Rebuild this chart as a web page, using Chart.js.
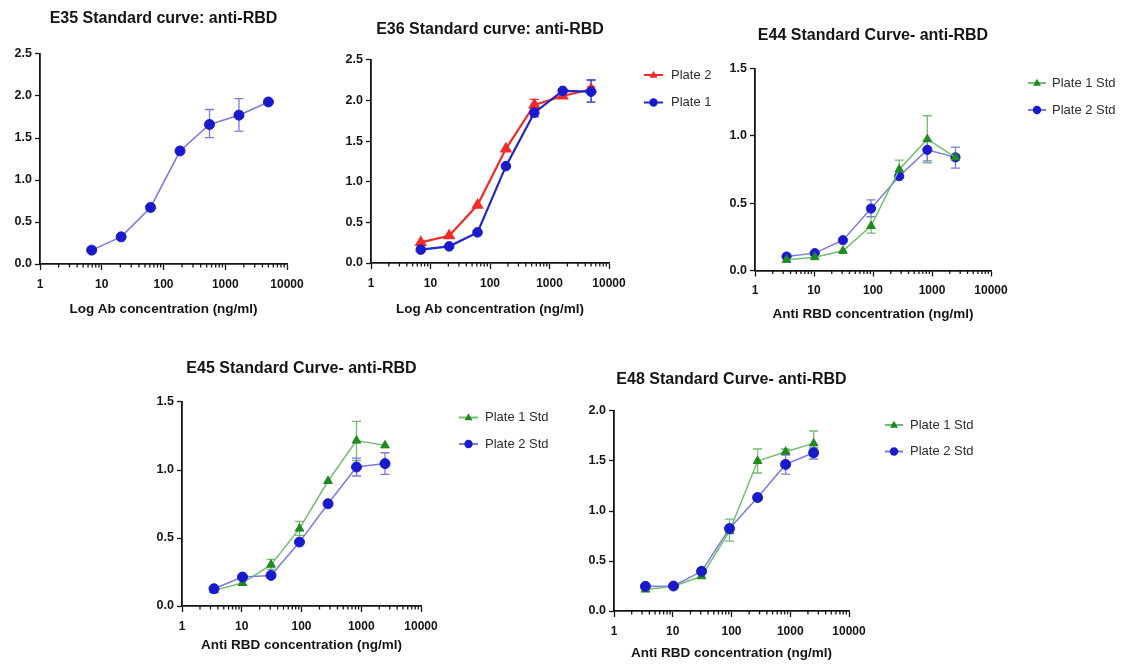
<!DOCTYPE html>
<html>
<head>
<meta charset="utf-8">
<script src="https://cdn.jsdelivr.net/npm/chart.js@4/dist/chart.umd.min.js"></script>
<style>
  html, body { margin: 0; padding: 0; background: #fff; }
  body { width: 1125px; height: 665px; position: relative; overflow: hidden; }
  canvas { position: absolute; }
</style>
</head>
<body>
<script>
// ---------------- DATA ----------------
// E35 (single curve), concentrations in ng/ml
const e35Conc = [6.86, 20.6, 61.7, 185, 556, 1667, 5000];
const e35OD = [0.165, 0.323, 0.673, 1.346, 1.661, 1.772, 1.929];
const e35ErrLow = [null, null, null, null, 1.504, 1.583, null];
const e35ErrHigh = [null, null, null, null, 1.839, 1.969, null];

// E36
const e36Conc = [6.86, 20.6, 61.7, 185, 556, 1667, 5000];
const e36Plate2 = [0.254, 0.336, 0.713, 1.406, 1.947, 2.057, 2.14];
const e36Plate2Low = [null, null, null, null, 1.90, null, 2.11];
const e36Plate2High = [null, null, null, null, 2.016, null, 2.17];
const e36Plate1 = [0.164, 0.205, 0.377, 1.193, 1.852, 2.12, 2.11];
const e36Plate1Low = [null, null, null, null, 1.80, null, 1.98];
const e36Plate1High = [null, null, null, null, 1.90, null, 2.254];

// E44 / E45 / E48 standards
const stdConc = [3.43, 10.3, 30.9, 92.6, 278, 833, 2500];

const e44Plate1 = [0.079, 0.099, 0.146, 0.33, 0.75, 0.975, 0.84];
const e44Plate1Low = [null, null, null, 0.277, 0.70, 0.80, 0.82];
const e44Plate1High = [null, null, null, 0.40, 0.82, 1.149, 0.86];
const e44Plate2 = [0.104, 0.129, 0.225, 0.46, 0.70, 0.896, 0.84];
const e44Plate2Low = [null, null, null, 0.40, null, 0.814, 0.76];
const e44Plate2High = [null, null, null, 0.525, null, 0.96, 0.916];

const e45Plate1 = [0.115, 0.169, 0.304, 0.569, 0.919, 1.216, 1.181];
const e45Plate1Low = [null, null, 0.27, 0.52, null, 1.07, null];
const e45Plate1High = [null, null, 0.343, 0.622, null, 1.358, null];
const e45Plate2 = [0.127, 0.213, 0.225, 0.47, 0.752, 1.022, 1.047];
const e45Plate2Low = [null, null, null, null, null, 0.956, 0.968];
const e45Plate2High = [null, null, null, null, null, 1.088, 1.127];

const e48Plate1 = [0.214, 0.247, 0.347, 0.798, 1.50, 1.593, 1.676];
const e48Plate1Low = [null, null, null, 0.698, 1.38, 1.57, 1.55];
const e48Plate1High = [null, null, null, 0.918, 1.62, 1.62, 1.80];
const e48Plate2 = [0.247, 0.25, 0.397, 0.825, 1.135, 1.466, 1.583];
const e48Plate2Low = [null, null, null, null, null, 1.369, 1.52];
const e48Plate2High = [null, null, null, null, null, 1.56, 1.63];

// Axis ticks
const xMin = 1, xMax = 10000;
const xDecades = [1, 10, 100, 1000];
const xMultipliers = [1, 2, 3, 4, 5, 6, 7, 8, 9];
const yStep = 0.5;

// Text
const titles = {
  e35: 'E35 Standard curve: anti-RBD',
  e36: 'E36 Standard curve: anti-RBD',
  e44: 'E44 Standard Curve- anti-RBD',
  e45: 'E45 Standard Curve- anti-RBD',
  e48: 'E48 Standard Curve- anti-RBD'
};
const xTitleLog = 'Log Ab concentration (ng/ml)';
const xTitleAnti = 'Anti RBD concentration (ng/ml)';

// ---------------- STYLE ----------------
const FONT = "'Liberation Sans', Arial, Helvetica, sans-serif";
const INK = '#141414';
const BLUE_MK = '#1a1acd';
const BLUE_LINE_SOFT = '#7b7bdc';
const BLUE_LINE_SOLID = '#2424cf';
const RED = '#f32a2a';
const GREEN_MK = '#1f8a1f';
const GREEN_LINE = '#72bd72';

const xTickValues = [];
xDecades.forEach(d => xMultipliers.forEach(m => xTickValues.push(d * m)));
xTickValues.push(xMax);
const isPow10 = v => Math.abs(Math.log10(v) - Math.round(Math.log10(v))) < 1e-9;

const pts = (xs, ys) => xs.map((x, i) => ({ x: x, y: ys[i] }));

// ---------------- PLUGINS ----------------
const errorBars = {
  id: 'errorBars',
  beforeDatasetsDraw(chart) {
    const { ctx } = chart;
    const xs = chart.scales.x, ys = chart.scales.y;
    chart.data.datasets.forEach(ds => {
      if (!ds.errLow) return;
      ctx.save();
      ctx.strokeStyle = ds.errColor || ds.borderColor;
      ctx.lineWidth = 1.3;
      ds.data.forEach((p, i) => {
        const lo = ds.errLow[i], hi = ds.errHigh[i];
        if (lo == null || hi == null) return;
        const px = xs.getPixelForValue(p.x);
        const pl = ys.getPixelForValue(lo), ph = ys.getPixelForValue(hi);
        ctx.beginPath();
        ctx.moveTo(px, pl); ctx.lineTo(px, ph);
        ctx.moveTo(px - 4.5, pl); ctx.lineTo(px + 4.5, pl);
        ctx.moveTo(px - 4.5, ph); ctx.lineTo(px + 4.5, ph);
        ctx.stroke();
      });
      ctx.restore();
    });
  }
};

const minorTicks = {
  id: 'minorTicks',
  afterDraw(chart) {
    const s = chart.scales.x, ctx = chart.ctx;
    ctx.save();
    ctx.strokeStyle = INK;
    ctx.lineWidth = 1.3;
    s.ticks.forEach(t => {
      if (isPow10(t.value)) return;
      const px = s.getPixelForValue(t.value);
      ctx.beginPath();
      ctx.moveTo(px, s.top);
      ctx.lineTo(px, s.top + 3.5);
      ctx.stroke();
    });
    ctx.restore();
  }
};

function drawMarker(ctx, style, x, y, r, color) {
  ctx.fillStyle = color;
  ctx.beginPath();
  if (style === 'triangle') {
    ctx.moveTo(x, y - r);
    ctx.lineTo(x + r * 0.95, y + r * 0.65);
    ctx.lineTo(x - r * 0.95, y + r * 0.65);
    ctx.closePath();
  } else {
    ctx.arc(x, y, r, 0, Math.PI * 2);
  }
  ctx.fill();
}

const plateLegend = {
  id: 'plateLegend',
  afterDraw(chart, args, opts) {
    if (!opts || !opts.items) return;
    const ctx = chart.ctx;
    const ox = opts.originX, oy = opts.originY;
    ctx.save();
    opts.items.forEach((it, k) => {
      const ds = chart.data.datasets[it];
      const y = opts.ys[k] - oy;
      const x1 = opts.x1 - ox, x2 = opts.x2 - ox;
      ctx.strokeStyle = ds.borderColor;
      ctx.lineWidth = 2;
      ctx.beginPath(); ctx.moveTo(x1, y); ctx.lineTo(x2, y); ctx.stroke();
      drawMarker(ctx, ds.pointStyle, (x1 + x2) / 2, y, 4.2, ds.pointBackgroundColor);
      ctx.fillStyle = '#2e2e2e';
      ctx.font = '13px ' + FONT;
      ctx.textBaseline = 'middle';
      ctx.textAlign = 'left';
      ctx.fillText(ds.label, opts.xText - ox, y);
    });
    ctx.restore();
  }
};

// ---------------- PANELS ----------------
function makePanel(p) {
  const cv = document.createElement('canvas');
  cv.width = p.rect.w; cv.height = p.rect.h;
  cv.style.left = p.rect.x + 'px'; cv.style.top = p.rect.y + 'px';
  cv.style.width = p.rect.w + 'px'; cv.style.height = p.rect.h + 'px';
  document.body.appendChild(cv);

  const tLH = 16 * 1.2, xtLH = 13.5 * 1.2;
  const padTop = p.titleY - tLH / 2 - p.rect.y;
  const titleBottom = p.area.t - p.titleY - tLH / 2;
  const xScaleH = p.rect.y + p.rect.h - p.area.b;
  const xTitleBottom = (p.rect.y + p.rect.h) - p.xTitleY - xtLH / 2;

  new Chart(cv, {
    type: 'line',
    data: { datasets: p.datasets },
    options: {
      responsive: false,
      animation: false,
      devicePixelRatio: 1,
      layout: { padding: { left: 0, top: padTop, right: p.rect.x + p.rect.w - p.area.r, bottom: 0 } },
      plugins: {
        legend: { display: false },
        tooltip: { enabled: false },
        title: {
          display: true, text: p.title, fullSize: false, color: INK,
          font: { family: FONT, size: 16, weight: 'bold' },
          padding: { top: 0, bottom: titleBottom }
        },
        plateLegend: p.legend ? Object.assign({ originX: p.rect.x, originY: p.rect.y }, p.legend) : {}
      },
      scales: {
        x: {
          type: 'logarithmic', min: xMin, max: xMax,
          afterBuildTicks: s => { s.ticks = xTickValues.map(v => ({ value: v, major: isPow10(v) })); },
          afterFit: s => { s.height = xScaleH; },
          ticks: {
            autoSkip: false, maxRotation: 0, padding: 7, color: INK,
            font: { family: FONT, size: 12, weight: 'bold' },
            callback: v => (isPow10(v) ? String(Math.round(v)) : '')
          },
          grid: {
            drawOnChartArea: false, drawTicks: true, tickLength: 6, tickWidth: 1.3,
            tickColor: c => (c.tick && isPow10(c.tick.value) ? INK : 'rgba(0,0,0,0)')
          },
          border: { display: true, color: INK, width: 1.8 },
          title: {
            display: true, text: p.xTitle, color: INK,
            font: { family: FONT, size: 13.5, weight: 'bold' },
            padding: { top: 0, bottom: xTitleBottom }
          }
        },
        y: {
          min: 0, max: p.yMax,
          afterFit: s => { s.width = p.area.l - p.rect.x; },
          ticks: {
            stepSize: yStep, padding: 3, color: INK,
            font: { family: FONT, size: 12.5, weight: 'bold' },
            callback: v => Number(v).toFixed(1)
          },
          grid: { drawOnChartArea: false, drawTicks: true, tickLength: 5, tickWidth: 1.3, tickColor: INK },
          border: { display: true, color: INK, width: 1.8 }
        }
      }
    },
    plugins: [errorBars, minorTicks, plateLegend]
  });
}

function blueSet(label, xs, ys, lo, hi, lineColor, lineW, r, order) {
  return {
    label, data: pts(xs, ys), errLow: lo, errHigh: hi, errColor: lineColor,
    borderColor: lineColor, borderWidth: lineW, tension: 0,
    pointStyle: 'circle', pointRadius: r, pointBackgroundColor: BLUE_MK, pointBorderColor: BLUE_MK,
    pointBorderWidth: 1, order
  };
}
function greenSet(label, xs, ys, lo, hi, order) {
  return {
    label, data: pts(xs, ys), errLow: lo, errHigh: hi, errColor: GREEN_LINE,
    borderColor: GREEN_LINE, borderWidth: 1.5, tension: 0,
    pointStyle: 'triangle', pointRadius: 5, pointBackgroundColor: GREEN_MK, pointBorderColor: GREEN_MK,
    pointBorderWidth: 1, order
  };
}

// E35
makePanel({
  rect: { x: 0, y: 0, w: 330, h: 330 },
  area: { l: 40, t: 54, r: 287, b: 264 },
  title: titles.e35, titleY: 19, xTitle: xTitleLog, xTitleY: 309, yMax: 2.5,
  datasets: [blueSet('E35', e35Conc, e35OD, e35ErrLow, e35ErrHigh, BLUE_LINE_SOFT, 1.6, 5, 0)]
});

// E36
makePanel({
  rect: { x: 330, y: 0, w: 395, h: 330 },
  area: { l: 371, t: 60, r: 609, b: 263 },
  title: titles.e36, titleY: 30, xTitle: xTitleLog, xTitleY: 309, yMax: 2.5,
  datasets: [
    {
      label: 'Plate 2', data: pts(e36Conc, e36Plate2), errLow: e36Plate2Low, errHigh: e36Plate2High, errColor: RED,
      borderColor: RED, borderWidth: 2.2, tension: 0, pointStyle: 'triangle', pointRadius: 5,
      pointBackgroundColor: RED, pointBorderColor: RED, order: 1
    },
    blueSet('Plate 1', e36Conc, e36Plate1, e36Plate1Low, e36Plate1High, BLUE_LINE_SOLID, 2.2, 4.8, 0)
  ],
  legend: { items: [0, 1], x1: 644, x2: 663, xText: 671, ys: [75, 102.5] }
});

// E44
makePanel({
  rect: { x: 720, y: 0, w: 405, h: 335 },
  area: { l: 755, t: 68.5, r: 991, b: 270.5 },
  title: titles.e44, titleY: 36, xTitle: xTitleAnti, xTitleY: 314, yMax: 1.5,
  datasets: [
    greenSet('Plate 1 Std', stdConc, e44Plate1, e44Plate1Low, e44Plate1High, 0),
    blueSet('Plate 2 Std', stdConc, e44Plate2, e44Plate2Low, e44Plate2High, BLUE_LINE_SOFT, 1.5, 4.6, 1)
  ],
  legend: { items: [0, 1], x1: 1028, x2: 1046, xText: 1052, ys: [83, 110] }
});

// E45
makePanel({
  rect: { x: 140, y: 340, w: 420, h: 325 },
  area: { l: 182, t: 402, r: 421, b: 606 },
  title: titles.e45, titleY: 369, xTitle: xTitleAnti, xTitleY: 645, yMax: 1.5,
  datasets: [
    greenSet('Plate 1 Std', stdConc, e45Plate1, e45Plate1Low, e45Plate1High, 1),
    blueSet('Plate 2 Std', stdConc, e45Plate2, e45Plate2Low, e45Plate2High, BLUE_LINE_SOFT, 1.5, 5, 0)
  ],
  legend: { items: [0, 1], x1: 459, x2: 478, xText: 485, ys: [417.5, 444] }
});

// E48
makePanel({
  rect: { x: 570, y: 350, w: 420, h: 315 },
  area: { l: 614, t: 411, r: 849, b: 611 },
  title: titles.e48, titleY: 380, xTitle: xTitleAnti, xTitleY: 653, yMax: 2.0,
  datasets: [
    greenSet('Plate 1 Std', stdConc, e48Plate1, e48Plate1Low, e48Plate1High, 1),
    blueSet('Plate 2 Std', stdConc, e48Plate2, e48Plate2Low, e48Plate2High, BLUE_LINE_SOFT, 1.5, 5, 0)
  ],
  legend: { items: [0, 1], x1: 885, x2: 903, xText: 910, ys: [425, 451.5] }
});
</script>
</body>
</html>
